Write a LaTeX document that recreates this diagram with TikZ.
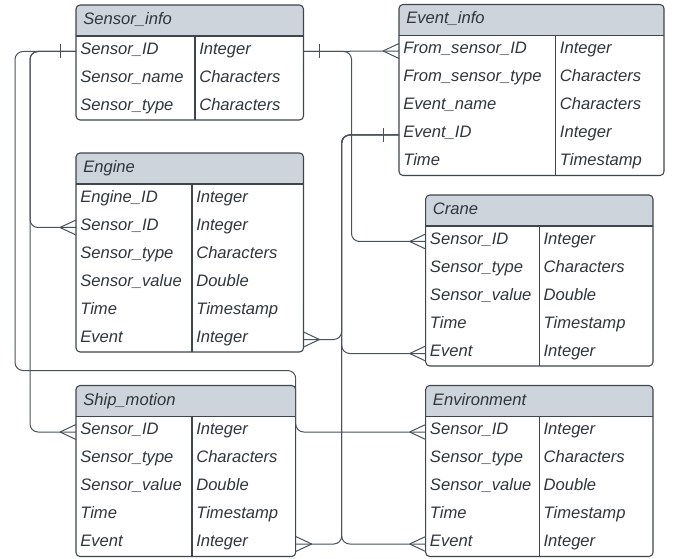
\documentclass[tikz,border=0pt]{standalone}
\usepackage{fontspec}
\setmainfont{Liberation Sans}
\usetikzlibrary{calc}
\definecolor{lc}{HTML}{4A515B}
\definecolor{bc}{HTML}{3F454D}
\definecolor{hd}{HTML}{CED4DC}
\definecolor{tx}{HTML}{30363C}
\tikzset{
  box/.style={draw=bc, line width=0.8pt},
  ln/.style={draw=lc, line width=0.75pt},
  txt/.style={inner sep=0pt, text=tx, font=\fontsize{12.45}{14}\selectfont\itshape},
}
\newcommand\erdtab[8]{%
  \def\eL{#2}\def\eT{#3}\def\eR{#4}\def\eD{#5}%
  \pgfmathsetmacro\eB{#3+31+28*#6}%
  \pgfmathsetmacro\eH{#3+31}%
  \begin{scope}
    \clip[rounded corners=3] (\eL,\eT) rectangle (\eR,\eB);
    \fill[white] (\eL,\eT) rectangle (\eR,\eB);
    \fill[hd] (\eL,\eT) rectangle (\eR,\eH);
  \end{scope}
  \draw[box] (\eL,\eH) -- (\eR,\eH) (\eD,\eH) -- (\eD,\eB);
  \draw[box, rounded corners=3] (\eL,\eT) rectangle (\eR,\eB);
  \coordinate (#1-nw) at (\eL,\eT);
  \coordinate (#1-ne) at (\eR,\eT);
  \node[txt, anchor=base west] (#1-title) at (\eL+7,\eT+19.5) {#7};
  \foreach \f/\t [count=\i] in {#8}{%
    \pgfmathsetmacro\yc{\eT+45+28*(\i-1)}
    \node[txt, anchor=base west] (#1-f\i) at (\eL+4,\yc+4.3) {\f};
    \node[txt, anchor=base west] (#1-t\i) at (\eD+4,\yc+4.3) {\t};
    \coordinate (#1-\i-w) at (\eL,\yc+1.5);
    \coordinate (#1-\i-e) at (\eR,\yc+1.5);
  }%
}
% crow's foot: #1 coordinate, #2 direction (-1 = line comes from left, +1 = from right)
\newcommand\crow[2]{%
  \draw[ln] ($(#1)+(#2*16,0)$) -- ($(#1)+(0,-7.5)$)
            ($(#1)+(#2*16,0)$) -- ($(#1)+(0,7.5)$);
}
\newcommand\onetick[2]{%
  \draw[ln] ($(#1)+(#2*16,-7)$) -- ($(#1)+(#2*16,7)$);
}
\begin{document}
\begin{tikzpicture}[x=0.75pt, y=-0.75pt]
\useasboundingbox (0,0) rectangle (677,559);

% bus coordinates
\coordinate (busA) at (30,0);
\coordinate (busB) at (15,0);
\coordinate (busC) at (351.5,0);
\coordinate (busD) at (341.7,0);
\coordinate (loopy) at (0,370.5);

\erdtab{si}{76}{5}{303.5}{195}{3}{Sensor\_info}{
  Sensor\_ID/Integer, Sensor\_name/Characters, Sensor\_type/Characters}
\erdtab{ei}{399}{4.5}{664}{555.7}{5}{Event\_info}{
  From\_sensor\_ID/Integer, From\_sensor\_type/Characters, Event\_name/Characters,
  Event\_ID/Integer, Time/Timestamp}
\erdtab{en}{76}{153}{303.5}{192}{6}{Engine}{
  Engine\_ID/Integer, Sensor\_ID/Integer, Sensor\_type/Characters,
  Sensor\_value/Double, Time/Timestamp, Event/Integer}
\erdtab{cr}{425.7}{195}{653}{539.3}{5}{Crane}{
  Sensor\_ID/Integer, Sensor\_type/Characters, Sensor\_value/Double,
  Time/Timestamp, Event/Integer}
\erdtab{sm}{76}{385.5}{295.7}{192}{5}{Ship\_motion}{
  Sensor\_ID/Integer, Sensor\_type/Characters, Sensor\_value/Double,
  Time/Timestamp, Event/Integer}
\erdtab{env}{425.7}{385.5}{653}{539.3}{5}{Environment}{
  Sensor\_ID/Integer, Sensor\_type/Characters, Sensor\_value/Double,
  Time/Timestamp, Event/Integer}

% Sensor_info.Sensor_ID (left) -> Engine, Ship_motion, Environment
\draw[ln, rounded corners=6] (si-1-w) -- (si-1-w -| busA) -- (en-2-w -| busA) -- (en-2-w);
\draw[ln, rounded corners=6] (si-1-w) -- (si-1-w -| busA) -- (sm-1-w -| busA) -- (sm-1-w);
\draw[ln, rounded corners=6] (si-1-w) -- (si-1-w -| busB) -- (loopy -| busB)
   -- (loopy -| sm-ne) -- (env-1-w -| sm-ne) -- (env-1-w);
\onetick{si-1-w}{-1}
\crow{en-2-w}{-1}
\crow{sm-1-w}{-1}
\crow{env-1-w}{-1}

% Sensor_info.Sensor_ID (right) -> Event_info, Crane
\draw[ln] (si-1-e) -- (ei-1-w);
\draw[ln, rounded corners=6] (si-1-e) -- (si-1-e -| busC) -- (cr-1-w -| busC) -- (cr-1-w);
\onetick{si-1-e}{1}
\crow{ei-1-w}{-1}
\crow{cr-1-w}{-1}

% Event_info.Event_ID -> Event fields
\draw[ln, rounded corners=6] (ei-4-w) -- (ei-4-w -| busD) -- (en-6-e -| busD) -- (en-6-e);
\draw[ln, rounded corners=6] (ei-4-w) -- (ei-4-w -| busD) -- (cr-5-w -| busD) -- (cr-5-w);
\draw[ln, rounded corners=6] (ei-4-w) -- (ei-4-w -| busD) -- (sm-5-e -| busD) -- (sm-5-e);
\draw[ln, rounded corners=6] (ei-4-w) -- (ei-4-w -| busD) -- (env-5-w -| busD) -- (env-5-w);
\onetick{ei-4-w}{-1}
\crow{en-6-e}{1}
\crow{cr-5-w}{-1}
\crow{sm-5-e}{1}
\crow{env-5-w}{-1}
\end{tikzpicture}
\end{document}
